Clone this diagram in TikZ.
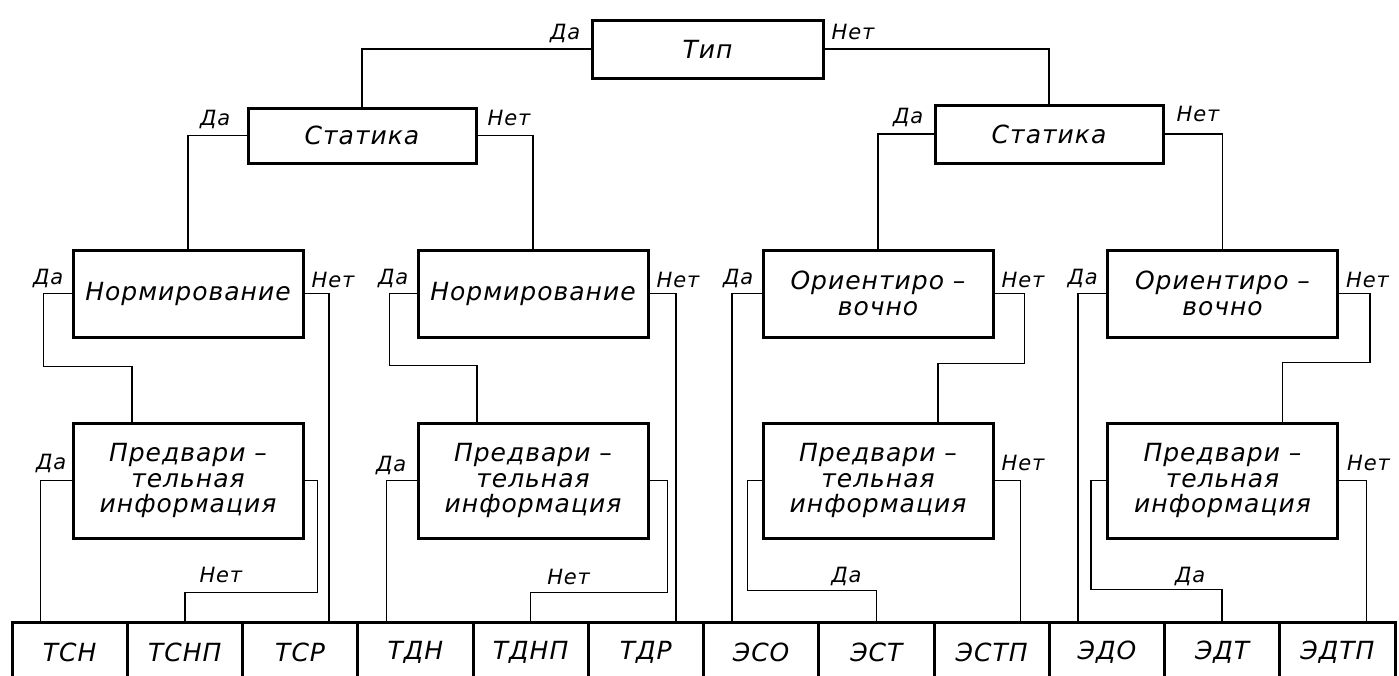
\documentclass[tikz,border=0pt]{standalone}
\usepackage{fontspec}
\setmainfont{DejaVu Sans}
\newfontfamily\gost[LetterSpace=4]{DejaVu Sans}
\usetikzlibrary{calc}
\begin{document}
\begin{tikzpicture}[x=1pt,y=-1pt,
  box/.style={draw, line width=3pt, minimum width=230pt, inner sep=0pt,
    font=\gost\itshape\fontsize{25}{25.5}\selectfont, align=center},
  cell/.style={draw, line width=3pt, minimum width=115.25pt, minimum height=60pt,
    inner sep=0pt, font=\gost\itshape\fontsize{25}{25.5}\selectfont},
  wire/.style={line width=1.5pt},
  lbl/.style={font=\gost\itshape\fontsize{21}{22}\selectfont, inner sep=0pt}]
\useasboundingbox (0,0) rectangle (1399,675);
\clip (0,0) rectangle (1399,675);
% decision boxes
\node[box, minimum width=231pt, minimum height=58pt] (tip) at (707.5,49) {Тип};
\node[box, minimum width=228pt, minimum height=55pt] (st1) at (362,135.5) {Статика};
\node[box, minimum width=228pt, minimum height=58pt] (st2) at (1049,134) {Статика};
\node[box, minimum height=87pt] (n1) at (188,293.5) {Нормирование};
\node[box, minimum height=87pt] (n2) at (533,293.5) {Нормирование};
\node[box, minimum height=87pt] (o1) at (878,293.5) {Ориентиро –\\вочно};
\node[box, minimum height=87pt] (o2) at (1222.5,293.5) {Ориентиро –\\вочно};
\node[box, minimum height=115pt] (p1) at (188,480.5) {Предвари –\\тельная\\информация};
\node[box, minimum height=115pt] (p2) at (533,480.5) {Предвари –\\тельная\\информация};
\node[box, minimum height=115pt] (p3) at (878,480.5) {Предвари –\\тельная\\информация};
\node[box, minimum height=115pt] (p4) at (1222.5,480.5) {Предвари –\\тельная\\информация};
% result cells
\foreach \t [count=\i] in {ТСН,ТСНП,ТСР,ТДН,ТДНП,ТДР,ЭСО,ЭСТ,ЭСТП,ЭДО,ЭДТ,ЭДТП}
  \node[cell] (c\i) at ({12+115.25*(\i-0.5)},652) {\t};
% top levels
\draw[wire] (tip.west) -| (st1.north);
\draw[wire] (tip.east) -| (st2.north);
\draw[wire] (st1.west) -| (n1.north);
\draw[wire] (st1.east) -| (n2.north);
\draw[wire] (st2.west) -| (o1.north);
\draw[wire] (st2.east) -| (o2.north);
% group TC
\draw[wire] (n1.west) -- ++(-28,0) -- ++(0,73) -| ([xshift=-56pt]p1.north);
\draw[wire] (n1.east) -| ([xshift=29pt]c3.north);
\draw[wire] (p1.west) -| ([xshift=-29pt]c1.north);
\draw[wire] (p1.east) -- ++(13,0) |- ([yshift=28pt]c2.north) -- (c2.north);
% group TD
\draw[wire] (n2.west) -- ++(-27,0) -- ++(0,72) -| ([xshift=-56pt]p2.north);
\draw[wire] (n2.east) -| ([xshift=30pt]c6.north);
\draw[wire] (p2.west) -| ([xshift=-29pt]c4.north);
\draw[wire] (p2.east) -- ++(18,0) |- ([yshift=28pt]c5.north) -- (c5.north);
% group ES
\draw[wire] (o1.west) -| ([xshift=-29pt]c7.north);
\draw[wire] (o1.east) -- ++(30,0) -- ++(0,70) -| ([xshift=60pt]p3.north);
\draw[wire] (p3.west) -- ++(-14,0) |- ([yshift=30pt]c8.north) -- (c8.north);
\draw[wire] (p3.east) -| ([xshift=29pt]c9.north);
% group ED
\draw[wire] (o2.west) -| ([xshift=-29pt]c10.north);
\draw[wire] (o2.east) -- ++(31,0) -- ++(0,69) -| ([xshift=60pt]p4.north);
\draw[wire] (p4.west) -- ++(-15,0) |- ([yshift=31pt]c11.north) -- (c11.north);
\draw[wire] (p4.east) -| ([xshift=29pt]c12.north);
% labels
\node[lbl, anchor=south east] (l1) at ([xshift=-10pt,yshift=6pt]tip.west) {Да};
\node[lbl, anchor=south west] (l2) at ([xshift=7pt,yshift=9pt]tip.east) {Нет};
\node[lbl, anchor=south east] (l3) at ([xshift=-16pt,yshift=7pt]st1.west) {Да};
\node[lbl, anchor=south west] (l4) at ([xshift=10pt,yshift=10pt]st1.east) {Нет};
\node[lbl, anchor=south east] (l5) at ([xshift=-10pt,yshift=7pt]st2.west) {Да};
\node[lbl, anchor=south west] (l6) at ([xshift=12pt,yshift=12pt]st2.east) {Нет};
\foreach \b in {n1,n2,o1,o2} {
  \node[lbl, anchor=south east] at ([xshift=-8pt,yshift=6pt]\b.west) {Да};
  \node[lbl, anchor=south west] at ([xshift=7pt,yshift=6pt]\b.east) {Нет};
}
\node[lbl, anchor=south east] (l7) at ([xshift=-5pt,yshift=8pt]p1.west) {Да};
\node[lbl, anchor=south east] (l8) at ([xshift=-10pt,yshift=6pt]p2.west) {Да};
\node[lbl, anchor=south west] (l9) at ([xshift=7pt,yshift=10pt]p3.east) {Нет};
\node[lbl, anchor=south west] (l10) at ([xshift=8pt,yshift=10pt]p4.east) {Нет};
\node[lbl, anchor=south] (l11) at ([xshift=36pt,yshift=38pt]c2.north) {Нет};
\node[lbl, anchor=south] (l12) at ([xshift=38pt,yshift=36pt]c5.north) {Нет};
\node[lbl, anchor=south] (l13) at ([xshift=-30pt,yshift=35pt]c8.north) {Да};
\node[lbl, anchor=south] (l14) at ([xshift=-32pt,yshift=35pt]c11.north) {Да};
\end{tikzpicture}
\end{document}
